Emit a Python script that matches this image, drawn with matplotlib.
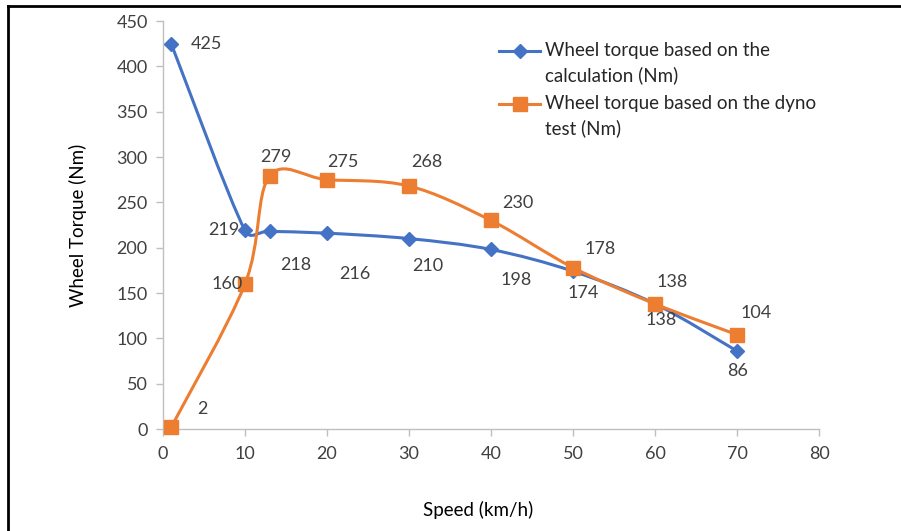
import numpy as np
import matplotlib

matplotlib.use("Agg")
import matplotlib.pyplot as plt  # noqa: E402
from matplotlib.path import Path  # noqa: E402
from matplotlib.patches import PathPatch  # noqa: E402
from matplotlib.lines import Line2D  # noqa: E402

# --- data ---
speed_calc = [1, 10, 13, 20, 30, 40, 50, 60, 70]
torque_calc = [425, 219, 218, 216, 210, 198, 174, 138, 86]
speed_dyno = [1, 10, 13, 20, 30, 40, 50, 60, 70]
torque_dyno = [2, 160, 279, 275, 268, 230, 178, 138, 104]

label_calc = "Wheel torque based on the\ncalculation (Nm)"
label_dyno = "Wheel torque based on the dyno\ntest (Nm)"
x_ticks = [0, 10, 20, 30, 40, 50, 60, 70, 80]
y_ticks = [0, 50, 100, 150, 200, 250, 300, 350, 400, 450]

# data label offsets in pixels (dx, dy upward) and horizontal alignment
offs_calc = [(20, 0, "left"), (-6, 0, "right"), (26, -34, "center"),
             (28, -41, "center"), (19, -27, "center"), (25, -31, "center"),
             (10, -22, "center"), (6, -16, "center"), (1, -20, "center")]
offs_dyno = [(26, 18, "left"), (-2, 0, "right"), (6, 19, "center"),
             (16, 18, "center"), (18, 24, "center"), (27, 17, "center"),
             (27, 19, "center"), (17, 22, "center"), (19, 22, "center")]

BLUE = "#4472C4"
ORANGE = "#ED7D31"
W, H = 901, 531
FS = 13
FS_LEG = 13.5

plt.rcParams["font.family"] = ["Lato", "DejaVu Sans"]

fig = plt.figure(figsize=(W / 100, H / 100), dpi=100)
ax = fig.add_axes([163 / W, 1 - 429 / H, 656 / W, 408 / H])
ax.set_xlim(0, 80)
ax.set_ylim(0, 450)


def excel_smooth(ax, xs, ys):
    """Bezier path mimicking Excel's smoothed line (computed in pixel space)."""
    pts = ax.transData.transform(np.column_stack([xs, ys]))
    n = len(pts)
    verts = [pts[0]]
    codes = [Path.MOVETO]
    for i in range(n - 1):
        p0 = pts[max(i - 1, 0)]
        p1 = pts[i]
        p2 = pts[i + 1]
        p3 = pts[min(i + 2, n - 1)]
        d02 = np.hypot(*(p2 - p0))
        d12 = np.hypot(*(p2 - p1))
        d13 = np.hypot(*(p3 - p1))
        f = 1 / 6 if d02 / 6 < d12 / 2 else d12 / (2 * d02)
        g = 1 / 6 if d13 / 6 < d12 / 2 else d12 / (2 * d13)
        c1 = p1 + f * (p2 - p0)
        c2 = p2 - g * (p3 - p1)
        verts += [c1, c2, p2]
        codes += [Path.CURVE4] * 3
    verts = ax.transData.inverted().transform(np.array(verts))
    return Path(verts, codes)


for xs, ys, color, marker, ms, offs in [
    (speed_calc, torque_calc, BLUE, "D", 7, offs_calc),
    (speed_dyno, torque_dyno, ORANGE, "s", 9.5, offs_dyno),
]:
    ax.add_patch(PathPatch(excel_smooth(ax, xs, ys), fill=False,
                           edgecolor=color, lw=2.2, capstyle="round",
                           joinstyle="round", zorder=2))
    ax.plot(xs, ys, ls="none", marker=marker, ms=ms, color=color,
            clip_on=False, zorder=3)
    for x, y, (dx, dy, ha) in zip(xs, ys, offs):
        ax.annotate(str(y), (x, y), xytext=(dx, dy),
                    textcoords="offset pixels", ha=ha, va="center",
                    fontsize=FS, color="#404040", zorder=4)

# axes styling
for side in ("top", "right"):
    ax.spines[side].set_visible(False)
for side in ("left", "bottom"):
    ax.spines[side].set_color("#BFBFBF")
    ax.spines[side].set_linewidth(1.0)
ax.set_xticks(x_ticks)
ax.set_yticks(y_ticks)
ax.tick_params(axis="both", colors="#BFBFBF", length=5, width=1,
               labelcolor="#404040", labelsize=FS, direction="out")
ax.tick_params(axis="x", pad=7)
ax.tick_params(axis="y", pad=6)

ax.set_xlabel("Speed (km/h)", fontsize=FS_LEG, color="#000000")
ax.xaxis.set_label_coords(0.48, -0.199)
ax.xaxis.label.set_va("center")
ax.set_ylabel("Wheel Torque (Nm)", fontsize=FS_LEG, color="#000000")
ax.yaxis.set_label_coords(-0.13, 0.5)
ax.yaxis.label.set_va("center")


def fx(px):
    return px / W


def fy(py):
    return 1 - py / H


# manual legend so the handle lines up with the first text line
for row_y, color, marker, ms, text in [
    (51, BLUE, "D", 7, label_calc),
    (104, ORANGE, "s", 9.5, label_dyno),
]:
    fig.add_artist(Line2D([fx(499), fx(540)], [fy(row_y), fy(row_y)],
                          color=color, lw=2.2))
    fig.add_artist(Line2D([fx(519.5)], [fy(row_y)], marker=marker, ms=ms,
                          color=color, ls="none"))
    fig.text(fx(545), fy(row_y - 9), text, ha="left", va="top",
             fontsize=FS_LEG, color="#262626", linespacing=1.5)

# black frame visible on top and left of the picture
fig.add_artist(Line2D([fx(8), fx(901)], [fy(6), fy(6)], color="black", lw=2))
fig.add_artist(Line2D([fx(8), fx(8)], [fy(6), fy(531)], color="black", lw=2))

fig.savefig("out.png", dpi=100)
